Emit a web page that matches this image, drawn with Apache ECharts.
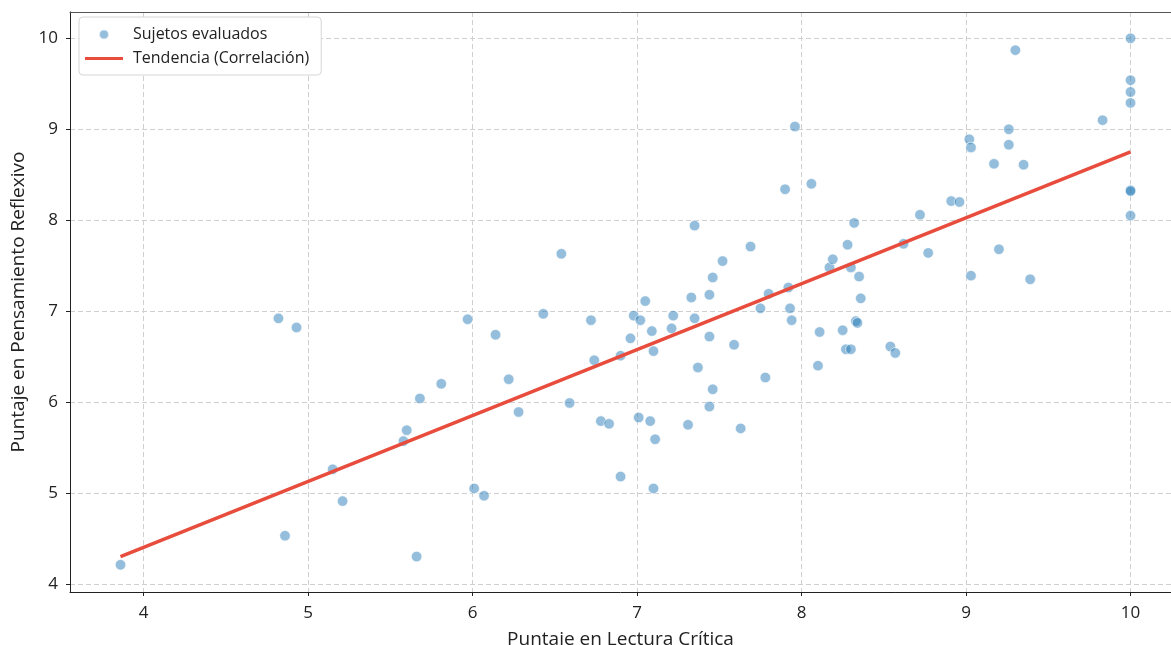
<!DOCTYPE html>
<html>
<head>
<meta charset="utf-8">
<script src="https://cdn.jsdelivr.net/npm/echarts@6/dist/echarts.min.js"></script>
<style>
html,body{margin:0;padding:0;background:#fff;}
#chart{width:1171px;height:645px;}
</style>
</head>
<body>
<div id="chart"></div>
<script>
// Puntaje en Lectura Crítica (x)
const lectura = [
  3.86, 4.82, 4.93, 4.86, 5.15, 5.21, 5.58, 5.60, 5.66, 5.68,
  5.81, 5.97, 6.01, 6.07, 6.14, 6.22, 6.28, 6.43, 6.54, 6.59,
  6.72, 6.74, 6.78, 6.83, 6.90, 6.90, 6.96, 6.98, 7.02, 7.01,
  7.05, 7.09, 7.08, 7.10, 7.11, 7.10, 7.22, 7.21, 7.31, 7.33,
  7.35, 7.35, 7.37, 7.44, 7.44, 7.44, 7.46, 7.46, 7.52, 7.59,
  7.63, 7.69, 7.75, 7.78, 7.80, 7.90, 7.92, 7.93, 7.94, 7.96,
  8.06, 8.10, 8.11, 8.17, 8.19, 8.25, 8.27, 8.28, 8.30, 8.30,
  8.32, 8.33, 8.34, 8.35, 8.36, 8.54, 8.57, 8.62, 8.72, 8.77,
  8.91, 8.96, 9.02, 9.03, 9.03, 9.17, 9.20, 9.26, 9.26, 9.30,
  9.35, 9.39, 9.83, 10.0, 10.0, 10.0, 10.0, 10.0, 10.0, 10.0
];
// Puntaje en Pensamiento Reflexivo (y)
const pensamiento = [
  4.21, 6.92, 6.82, 4.53, 5.26, 4.91, 5.57, 5.69, 4.30, 6.04,
  6.20, 6.91, 5.05, 4.97, 6.74, 6.25, 5.89, 6.97, 7.63, 5.99,
  6.90, 6.46, 5.79, 5.76, 6.51, 5.18, 6.70, 6.95, 6.90, 5.83,
  7.11, 6.78, 5.79, 6.56, 5.59, 5.05, 6.95, 6.81, 5.75, 7.15,
  6.92, 7.94, 6.38, 7.18, 6.72, 5.95, 7.37, 6.14, 7.55, 6.63,
  5.71, 7.71, 7.03, 6.27, 7.19, 8.34, 7.26, 7.03, 6.90, 9.03,
  8.40, 6.40, 6.77, 7.48, 7.57, 6.79, 6.58, 7.73, 6.58, 7.48,
  7.97, 6.89, 6.87, 7.38, 7.14, 6.61, 6.54, 7.74, 8.06, 7.64,
  8.21, 8.20, 8.89, 8.80, 7.39, 8.62, 7.68, 9.00, 8.83, 9.87,
  8.61, 7.35, 9.10, 10.0, 9.54, 9.41, 9.29, 8.33, 8.32, 8.05
];
// Trend line end points
const tendenciaX = [3.86, 10.0];
const tendenciaY = [4.30, 8.75];

const seriesNames = ['Sujetos evaluados', 'Tendencia (Correlación)'];
const xAxisName = 'Puntaje en Lectura Crítica';
const yAxisName = 'Puntaje en Pensamiento Reflexivo';

const puntos = lectura.map((x, i) => [x, pensamiento[i]]);
const linea = tendenciaX.map((x, i) => [x, tendenciaY[i]]);

const FONT = 'Open Sans';
const chart = echarts.init(document.getElementById('chart'), null, {renderer: 'canvas'});
chart.setOption({
  animation: false,
  backgroundColor: '#ffffff',
  textStyle: {fontFamily: FONT},
  grid: {left: 70, top: 12, width: 1101, bottom: 53, containLabel: false, outerBoundsMode: 'none'},
  legend: {
    orient: 'vertical',
    left: 79, top: 17,
    padding: [7, 12, 6, 6],
    itemWidth: 38, itemHeight: 10, itemGap: 3,
    symbolKeepAspect: true,
    backgroundColor: '#fff',
    borderColor: '#d6d6d6', borderWidth: 1, borderRadius: 4,
    textStyle: {fontFamily: FONT, fontSize: 16, color: '#222', padding: [0, 0, 0, 5], lineHeight: 21},
    data: [
      {name: seriesNames[0], icon: 'circle'},
      {name: seriesNames[1], icon: 'path://M0,0 L38,0 L38,3 L0,3 Z', itemStyle: {color: '#e74c3c', borderWidth: 0}}
    ]
  },
  xAxis: [{
    type: 'value',
    min: 3.553, max: 10.246,
    splitNumber: 6,
    name: xAxisName, nameLocation: 'middle', nameGap: 38,
    nameTextStyle: {fontFamily: FONT, fontSize: 19, color: '#222'},
    axisLine: {show: true, onZero: false, lineStyle: {color: '#222', width: 1}},
    axisTick: {show: true, length: 4, lineStyle: {color: '#222'}},
    axisLabel: {fontFamily: FONT, fontSize: 17, color: '#222', margin: 13, showMinLabel: false, showMaxLabel: false},
    splitLine: {show: true, lineStyle: {color: '#d0d0d0', type: [5, 3], width: 1}}
  }, {
    type: 'value',
    position: 'top',
    min: 3.553, max: 10.246,
    axisLine: {show: true, onZero: false, lineStyle: {color: '#555', width: 1}},
    axisTick: {show: false},
    axisLabel: {show: false},
    splitLine: {show: false}
  }],
  yAxis: {
    type: 'value',
    min: 3.9105, max: 10.2895,
    splitNumber: 6,
    name: yAxisName, nameLocation: 'middle', nameGap: 40,
    nameTextStyle: {fontFamily: FONT, fontSize: 19, color: '#222'},
    axisLine: {show: true, onZero: false, lineStyle: {color: '#222', width: 1}},
    axisTick: {show: true, length: 4, lineStyle: {color: '#222'}},
    axisLabel: {fontFamily: FONT, fontSize: 17, color: '#222', margin: 12, showMinLabel: false, showMaxLabel: false},
    splitLine: {show: true, lineStyle: {color: '#d0d0d0', type: [5, 3], width: 1}}
  },
  series: [
    {
      name: seriesNames[0],
      type: 'scatter',
      data: puntos,
      symbol: 'circle',
      symbolSize: 10.5,
      itemStyle: {color: 'rgba(31,119,180,0.6)', borderColor: 'rgba(255,255,255,0.9)', borderWidth: 0.8},
      z: 2
    },
    {
      name: seriesNames[1],
      type: 'line',
      data: linea,
      symbol: 'none',
      lineStyle: {color: '#e74c3c', width: 3.5},
      itemStyle: {color: '#e74c3c'},
      z: 3
    }
  ]
});
</script>
</body>
</html>
